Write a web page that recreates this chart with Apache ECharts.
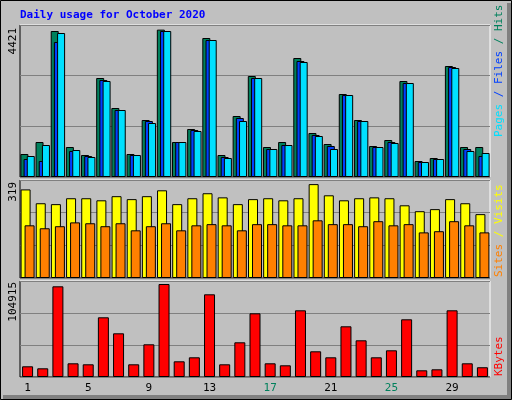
<!DOCTYPE html>
<html><head><meta charset="utf-8">
<script src="https://cdn.jsdelivr.net/npm/echarts@6/dist/echarts.min.js"></script>
<style>html,body{margin:0;padding:0;background:#c0c0c0}#c{width:512px;height:400px}</style>
</head><body><div id="c"></div>
<script>
// 每日数据
const days = Array.from({length: 31}, (_, i) => String(i + 1));
const weekendDays = ['3','4','10','11','17','18','24','25','31'];
const hits = [690,1050,4380,900,660,2970,2070,690,1710,4421,1050,1440,4170,660,1830,3030,900,1050,3570,1320,990,2490,1710,930,1110,2880,480,570,3330,900,900];
const files = [540,480,4050,780,630,2910,2010,660,1680,4380,1050,1410,4110,600,1770,2970,840,960,3480,1260,930,2460,1680,900,1050,2820,450,540,3300,840,630];
const pages = [630,960,4320,810,600,2880,2010,660,1620,4380,1050,1380,4110,570,1680,2970,840,960,3450,1230,840,2460,1680,900,1020,2820,450,540,3270,780,720];
const visits = [301,254,251,271,271,264,278,268,278,298,251,271,288,274,251,268,271,264,271,319,281,264,271,274,271,247,227,234,268,254,217];
const sites = [179,169,176,189,186,176,186,162,176,186,162,179,183,179,162,183,183,179,179,196,183,183,176,193,179,183,155,159,193,179,155];
const kbytes = [12070,9810,102300,15450,14330,67340,49290,14330,36890,104915,17710,22220,93290,14330,39140,71850,15450,13200,75240,28990,22220,57190,41400,22220,30120,65090,7560,8690,75240,15450,11000];

const mono = 'DejaVu Sans Mono';
const chart = echarts.init(document.getElementById('c'));

const grids = [
    {left: 20, right: 22, top: 25, height: 152},
    {left: 20, right: 22, top: 180, height: 98},
    {left: 20, right: 22, top: 281, height: 96}
];
const maxes = [4560, 333, 108300];

function xAxis(i) {
    return {
        type: 'category', gridIndex: i, data: days,
        axisLine: {show: false}, axisTick: {show: false},
        axisLabel: i === 2 ? {
            margin: 6, fontFamily: mono, fontSize: 11,
            formatter: d => weekendDays.includes(d) ? '{w|' + d + '}' : '{n|' + d + '}',
            rich: {w: {color: '#00805c', fontFamily: mono, fontSize: 11}, n: {color: '#000', fontFamily: mono, fontSize: 11}}
        } : {show: false}
    };
}
function yAxis(i) {
    return {
        type: 'value', gridIndex: i, min: 0, max: maxes[i], interval: maxes[i] / 3,
        axisLabel: {show: false}, axisLine: {show: false}, axisTick: {show: false},
        splitLine: {lineStyle: {color: '#808080', width: 1}}
    };
}
function bar(name, data, color, i, width, gap) {
    return {
        name, type: 'bar', xAxisIndex: i, yAxisIndex: i, data,
        barWidth: width, barGap: gap, animation: false,
        itemStyle: {color, borderColor: '#000', borderWidth: 1}
    };
}

function frame(g) {
    const x = g.left, y = g.top, w = 512 - g.left - g.right, h = g.height;
    return [
        {type: 'line', shape: {x1: x, y1: y, x2: x + w, y2: y}, style: {stroke: '#fff', lineWidth: 1}},
        {type: 'line', shape: {x1: x + w, y1: y, x2: x + w, y2: y + h}, style: {stroke: '#fff', lineWidth: 1}},
        {type: 'line', shape: {x1: x, y1: y, x2: x, y2: y + h}, style: {stroke: '#000', lineWidth: 1}},
        {type: 'line', shape: {x1: x, y1: y + h, x2: x + w, y2: y + h}, style: {stroke: '#000', lineWidth: 1}}
    ];
}
function vtext(x, y, text, align, rich, fill) {
    return {
        type: 'text', x, y, rotation: Math.PI / 2, z: 10,
        style: {text, align, verticalAlign: 'middle', fill: fill || '#000', font: '11px ' + mono, rich}
    };
}
const rs = c => ({fill: c, font: '11px ' + mono});

chart.setOption({
    backgroundColor: '#c0c0c0',
    grid: grids,
    xAxis: [0, 1, 2].map(xAxis),
    yAxis: [0, 1, 2].map(yAxis),
    series: [
        bar('Hits', hits, '#00805c', 0, 8, '-60%'),
        bar('Files', files, '#0040ff', 0, 8, '-60%'),
        bar('Pages', pages, '#00e0ff', 0, 8, '-60%'),
        bar('Visits', visits, '#ffff00', 1, 10, '-60%'),
        bar('Sites', sites, '#ff8000', 1, 10, '-60%'),
        bar('KBytes', kbytes, '#ff0000', 2, 11, '0%')
    ],
    graphic: [
        {type: 'rect', shape: {x: 0.5, y: 0.5, width: 511, height: 399}, style: {fill: null, stroke: '#000', lineWidth: 1}},
        {type: 'rect', shape: {x: 507, y: 3, width: 4, height: 396}, style: {fill: '#808080'}},
        {type: 'rect', shape: {x: 3, y: 395, width: 508, height: 4}, style: {fill: '#808080'}},
        {type: 'text', x: 20, y: 15, style: {text: 'Daily usage for October 2020', fill: '#0000ff', font: 'bold 11px ' + mono, verticalAlign: 'middle'}},
        ...frame(grids[0]), ...frame(grids[1]), ...frame(grids[2]),
        vtext(13, 28, '4421', 'right'),
        vtext(13, 182, '319', 'right'),
        vtext(13, 282, '104915', 'right'),
        vtext(499, 137, '{p|Pages}{f| / }{f|Files}{h| / Hits}', 'left', {p: rs('#00e0ff'), f: rs('#0040ff'), h: rs('#00805c')}),
        vtext(499, 277, '{s|Sites}{v| / Visits}', 'left', {s: rs('#ff8000'), v: rs('#ffff00')}),
        vtext(499, 376, 'KBytes', 'left', null, '#ff0000')
    ]
});
</script></body></html>
